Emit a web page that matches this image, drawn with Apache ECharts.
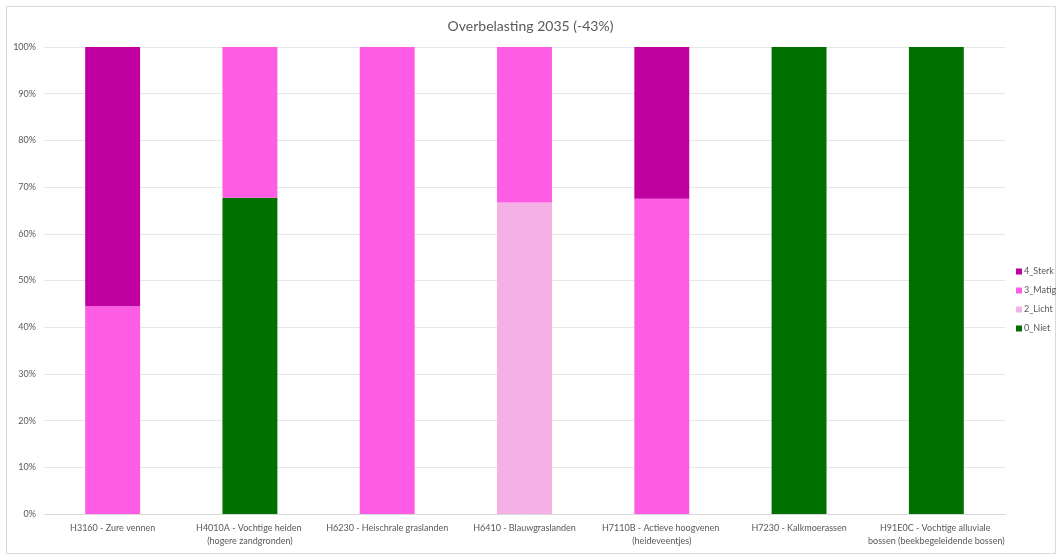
<!DOCTYPE html>
<html><head><meta charset="utf-8">
<script src="https://cdn.jsdelivr.net/npm/echarts@6/dist/echarts.min.js"></script>
<style>
html,body{margin:0;padding:0;background:#fff;overflow:hidden;}
#frame{position:absolute;left:6px;top:6px;width:1050px;height:548px;border:1px solid #d9d9d9;box-sizing:border-box;}
#c{position:absolute;left:0;top:0;width:1061px;height:555px;}
</style></head>
<body><div id="frame"></div><div id="c"></div>
<script>
const title = 'Overbelasting 2035 (-43%)';
const categories = ['H3160 - Zure vennen','H4010A - Vochtige heiden (hogere zandgronden)','H6230 - Heischrale graslanden','H6410 - Blauwgraslanden','H7110B - Actieve hoogvenen (heideveentjes)','H7230 - Kalkmoerassen','H91E0C - Vochtige alluviale bossen (beekbegeleidende bossen)'];
const niet   = [0, 67.7, 0, 0, 0, 100, 100];
const licht  = [0, 0, 0, 66.7, 0, 0, 0];
const matig  = [44.5, 32.3, 100, 33.3, 67.5, 0, 0];
const sterk  = [55.5, 0, 0, 0, 32.5, 0, 0];
const seriesNames = ['0_Niet','2_Licht','3_Matig','4_Sterk'];
const colors = ['#007000','#F5B0E6','#FF5CE6','#C000A0'];
const data = [niet, licht, matig, sterk];

const chart = echarts.init(document.getElementById('c'), null, {renderer:'canvas'});
const font = 'Lato, "Open Sans", sans-serif';
chart.setOption({
  animation:false,
  title:{text:title,left:'center',top:14,textStyle:{fontFamily:font,fontSize:14,fontWeight:'normal',color:'#595959'}},
  grid:{left:44,right:56,top:47,bottom:41,containLabel:false},
  legend:{orient:'vertical',left:1011,top:262,itemWidth:6,itemHeight:6,itemGap:10,
    data:seriesNames.slice().reverse(),
    textStyle:{fontFamily:font,fontSize:9,color:'#595959',padding:[0,0,0,-3]},icon:'rect'},
  xAxis:{type:'category',data:categories,
    axisLine:{lineStyle:{color:'#d9d9d9'}},axisTick:{show:false},
    axisLabel:{fontFamily:font,fontSize:9,color:'#595959',interval:0,width:137,overflow:'break',lineHeight:13,margin:8}},
  yAxis:{type:'value',min:0,max:100,interval:10,
    axisLabel:{formatter:'{value}%',fontFamily:font,fontSize:9,color:'#595959',margin:8},
    splitLine:{lineStyle:{color:'#e6e6e6'}},axisLine:{show:false},axisTick:{show:false}},
  series:data.map((d,i)=>({name:seriesNames[i],type:'bar',stack:'a',data:d,barWidth:'40%',
    itemStyle:{color:colors[i]}}))
});
</script></body></html>
